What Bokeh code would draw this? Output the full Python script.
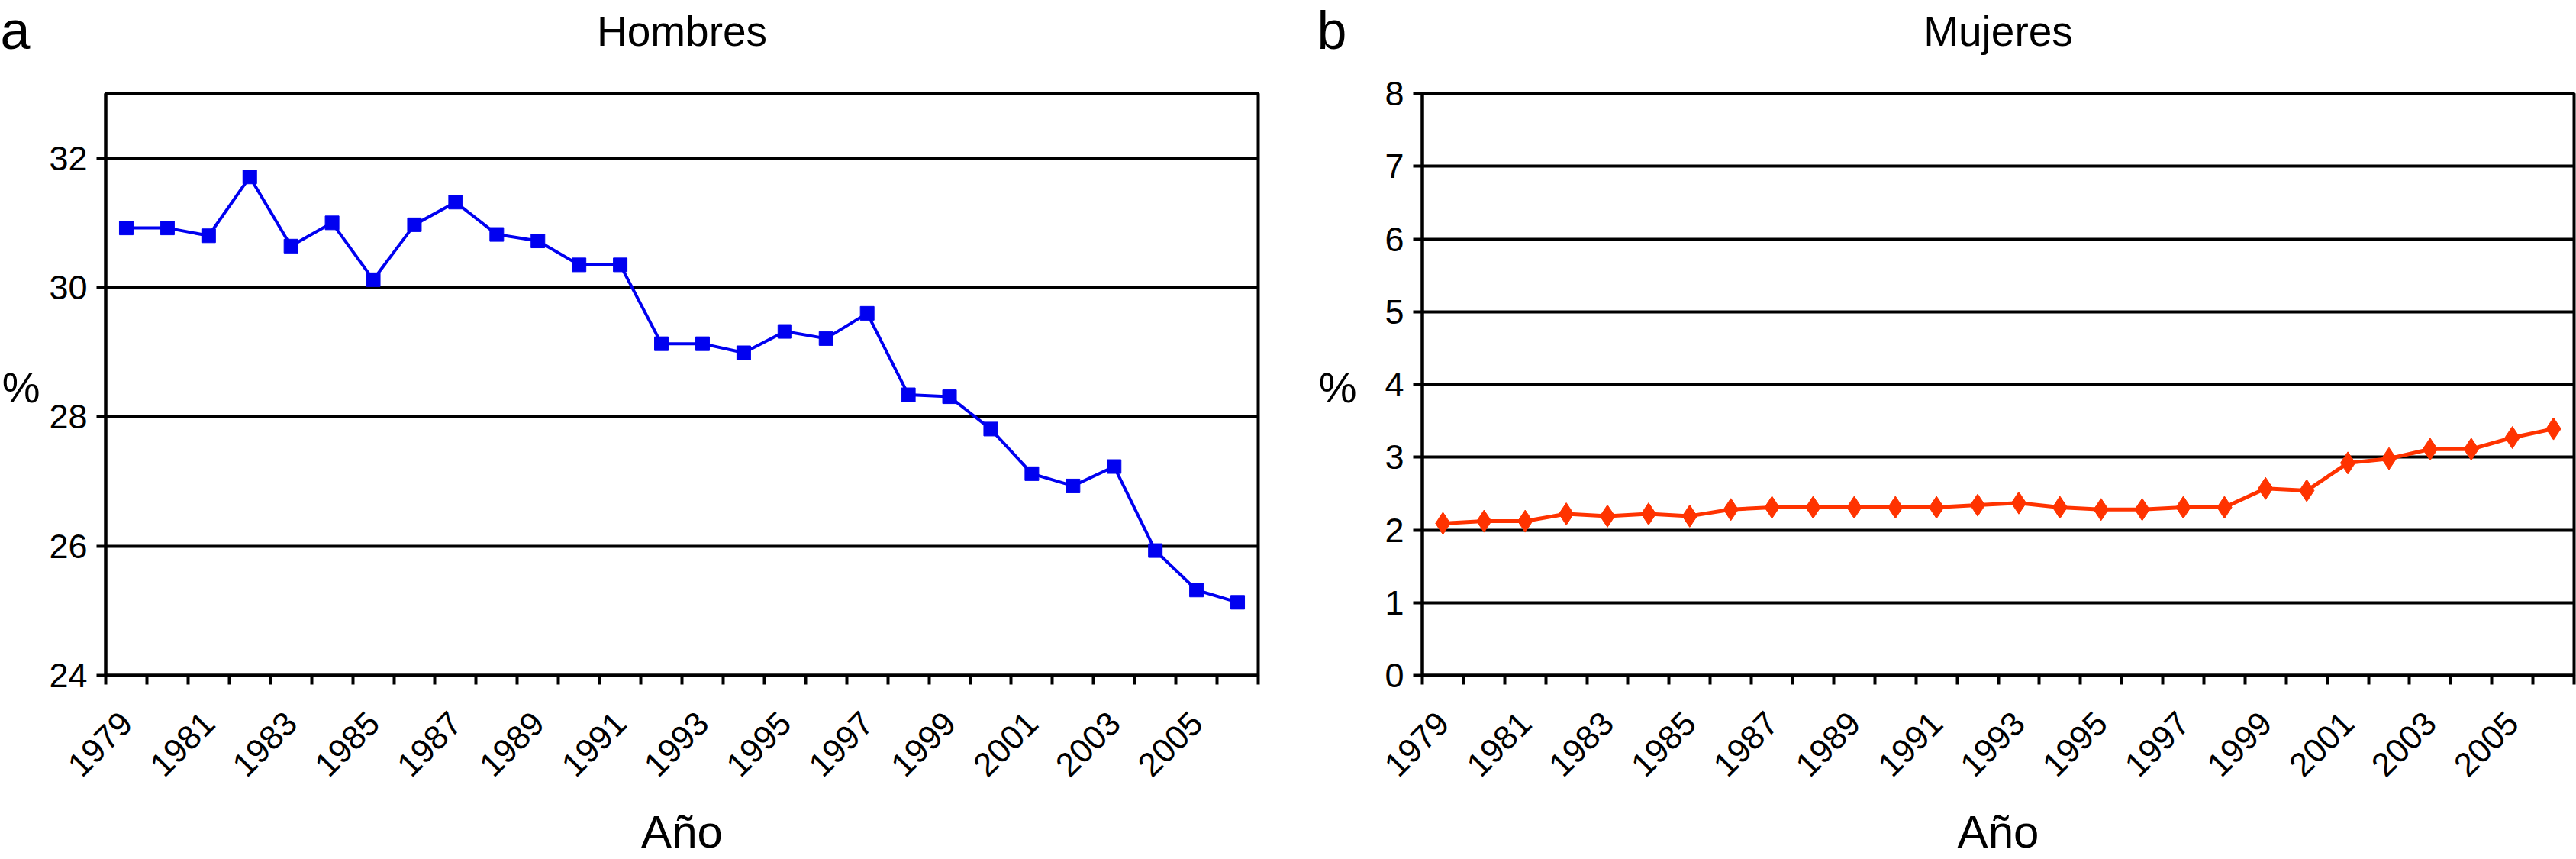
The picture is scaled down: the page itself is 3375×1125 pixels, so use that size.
import math
from bokeh.plotting import figure
from bokeh.models import FixedTicker, Range1d
from bokeh.layouts import row, column
from bokeh.embed import file_html
from bokeh.resources import INLINE
from bokeh.core.properties import value

# ---- data ----
years = list(range(1979, 2007))
label_years = years[::2]  # 1979, 1981, ..., 2005
hombres = [30.92, 30.92, 30.80, 31.71, 30.64, 31.00, 30.12, 30.97, 31.32, 30.82,
           30.72, 30.35, 30.35, 29.13, 29.13, 28.99, 29.32, 29.21, 29.60, 28.34,
           28.31, 27.81, 27.12, 26.93, 27.23, 25.93, 25.32, 25.13]
mujeres = [2.09, 2.12, 2.12, 2.22, 2.19, 2.22, 2.19, 2.28, 2.31, 2.31,
           2.31, 2.31, 2.31, 2.34, 2.37, 2.31, 2.28, 2.28, 2.31, 2.31,
           2.57, 2.54, 2.92, 2.98, 3.11, 3.11, 3.27, 3.39]
hombres_yticks = [24, 26, 28, 30, 32]
mujeres_yticks = [0, 1, 2, 3, 4, 5, 6, 7, 8]
panel_titles = ["Hombres", "Mujeres"]
panel_letters = ["a", "b"]

FONT = "Liberation Sans"
W = 3375
HEAD = 90           # header strip height (titles and panel letters)
TOP = 32
BOTTOM = 241
FRAME_H = 762
H = TOP + FRAME_H + BOTTOM
GUTTER = 55
BORDER_L = 83
FRAME_TOP = HEAD + TOP            # page y of frame top (122)
FRAME_BOT = FRAME_TOP + FRAME_H   # page y of frame bottom (884)
FRAME_L = [138, 1863]
FRAME_W = [1510, 1509]


def header():
    h = figure(width=W, height=HEAD, output_backend="svg", toolbar_location=None,
               x_axis_type=None, y_axis_type=None, title=None,
               x_range=Range1d(0, W), y_range=Range1d(HEAD, 0),
               min_border_left=0, min_border_right=0, min_border_top=0,
               min_border_bottom=0, background_fill_color="white",
               border_fill_color="white")
    h.outline_line_color = None
    h.text(x=[FRAME_L[0] - 138, FRAME_L[1] - 138], y=[39, 39], text=panel_letters,
           text_font=value(FONT), text_font_size="70px", text_align="left",
           text_baseline="alphabetic", text_color="black")
    h.text(x=[FRAME_L[0] + FRAME_W[0] / 2, FRAME_L[1] + FRAME_W[1] / 2], y=[40, 40],
           text=panel_titles, text_font=value(FONT), text_font_size="55px",
           text_align="center", text_baseline="alphabetic", text_color="black")
    return h


def gutter():
    """Narrow strip left of each panel holding the '%' label."""
    g = figure(width=GUTTER, height=H, output_backend="svg", toolbar_location=None,
               x_axis_type=None, y_axis_type=None, title=None,
               x_range=Range1d(0, GUTTER), y_range=Range1d(FRAME_BOT, FRAME_TOP),
               min_border_left=0, min_border_right=0, min_border_top=TOP,
               min_border_bottom=BOTTOM, background_fill_color="white",
               border_fill_color="white")
    g.outline_line_color = None
    g.text(x=[GUTTER - 3], y=[507], text=["%"], text_font=value(FONT),
           text_font_size="56px", text_align="right", text_baseline="alphabetic",
           text_color="black")
    return g


def make_panel(width, right, y0, y1, yticks, ys, color, marker, msize, lw):
    p = figure(width=width, height=H, output_backend="svg", toolbar_location=None,
               title=None,
               x_range=Range1d(years[0] - 0.5, years[-1] + 0.5),
               y_range=Range1d(y0, y1),
               min_border_left=BORDER_L, min_border_right=right,
               min_border_top=TOP, min_border_bottom=BOTTOM,
               background_fill_color="white", border_fill_color="white")
    p.outline_line_color = "black"
    p.outline_line_width = 4
    p.outline_line_alpha = 1.0

    p.xgrid.visible = False
    p.ygrid.grid_line_color = "black"
    p.ygrid.grid_line_width = 4
    p.ygrid.ticker = FixedTicker(ticks=yticks)

    # y axis
    ya = p.yaxis[0]
    ya.ticker = FixedTicker(ticks=yticks)
    ya.axis_line_color = "black"
    ya.axis_line_width = 4
    ya.major_tick_out = 12
    ya.major_tick_in = 0
    ya.major_tick_line_width = 4
    ya.major_tick_line_color = "black"
    ya.minor_tick_line_color = None
    ya.major_label_standoff = 12
    ya.major_label_text_font = FONT
    ya.major_label_text_font_size = "45px"
    ya.major_label_text_color = "black"

    # x axis: labels at category centres, tick marks at category boundaries
    xa = p.xaxis[0]
    xa.ticker = FixedTicker(ticks=label_years,
                            minor_ticks=[y - 0.5 for y in years] + [years[-1] + 0.5])
    xa.axis_line_color = "black"
    xa.axis_line_width = 4
    xa.major_tick_out = 12
    xa.major_tick_in = 0
    xa.major_tick_line_color = None
    xa.minor_tick_out = 12
    xa.minor_tick_in = 0
    xa.minor_tick_line_width = 4
    xa.minor_tick_line_color = "black"
    xa.major_label_orientation = math.pi / 4
    xa.major_label_standoff = 43
    xa.major_label_text_font = FONT
    xa.major_label_text_font_size = "44px"
    xa.major_label_text_color = "black"
    xa.axis_label = "Año"
    xa.axis_label_text_font = FONT
    xa.axis_label_text_font_size = "60px"
    xa.axis_label_text_font_style = "normal"
    xa.axis_label_text_color = "black"
    xa.axis_label_standoff = 22

    p.line(years, ys, line_color=color, line_width=lw)
    p.scatter(years, ys, marker=marker, size=msize, fill_color=color,
              line_color=color, line_width=1)
    return p


# left panel: frame x 138..1648 ; right panel: frame x 1863..3372
p1 = make_panel(1670, 77, 24, 33, hombres_yticks, hombres, "#0000f0",
                "square", 18, 4)
p2 = make_panel(1595, 3, 0, 8, mujeres_yticks, mujeres, "#ff3300",
                "diamond", 29, 5)

layout = column(header(), row(gutter(), p1, gutter(), p2))
open("out.html", "w").write(file_html(layout, INLINE))
